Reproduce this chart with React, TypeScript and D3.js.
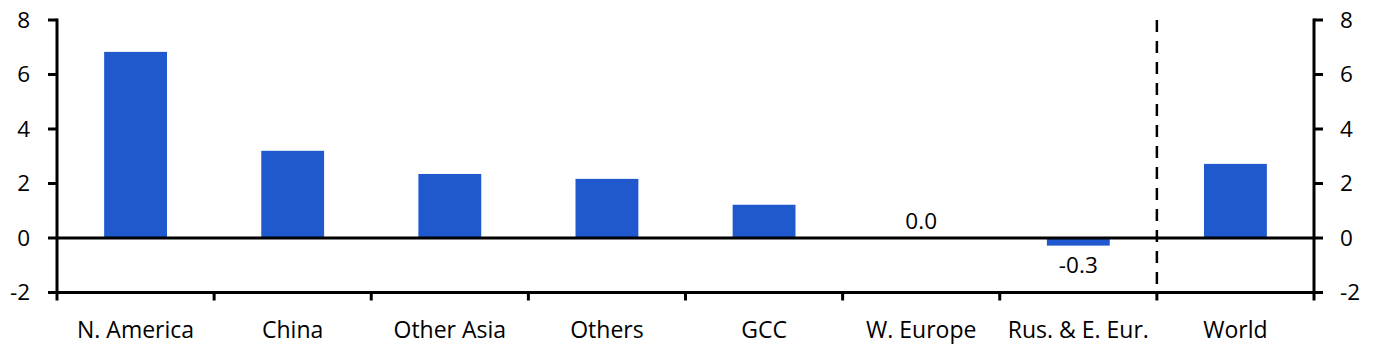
import React from "react";
import * as d3 from "d3";

const categories = ["N. America", "China", "Other Asia", "Others", "GCC", "W. Europe", "Rus. & E. Eur.", "World"];
const values = [6.83, 3.2, 2.35, 2.17, 1.22, 0.0, -0.28, 2.72];
const labelled = [false, false, false, false, false, true, true, false];
const yTicks = [-2, 0, 2, 4, 6, 8];

const W = 1374;
const H = 355;
const left = 57;
const right = 1314;
const top = 20;
const bottom = 292.5;
const font = "'Open Sans', Lato, sans-serif";
const fs = 23;
const fsTick = 22.5;

export default function App() {
  const x = d3.scaleBand<string>().domain(categories).range([left, right]).paddingInner(0).paddingOuter(0);
  const y = d3.scaleLinear().domain([-2, 8]).range([bottom, top]);
  const bw = x.bandwidth() * 0.4;
  const y0 = y(0);
  return (
    <svg width={W} height={H} style={{ position: "absolute", left: 0, top: 0, background: "#fff" }}>
      {categories.map((c, i) => {
        const v = values[i];
        const cx = (x(c) as number) + x.bandwidth() / 2;
        return (
          <g key={c}>
            <rect x={cx - bw / 2} width={bw} y={Math.min(y(v), y0)} height={Math.abs(y(v) - y0)} fill="#2059CE" />
            {labelled[i] && (
              <text
                x={cx}
                y={v >= 0 ? y(v) - 9 : y(v) + 27}
                textAnchor="middle"
                fontFamily={font}
                fontSize={fsTick}
                fill="#000"
              >
                {(Math.round(v * 10) / 10).toFixed(1)}
              </text>
            )}
            <text x={cx} y={338} textAnchor="middle" fontFamily={font} fontSize={fs} fill="#000">
              {c}
            </text>
          </g>
        );
      })}
      <line x1={left} x2={right} y1={y0} y2={y0} stroke="#000" strokeWidth={3} />
      <line
        x1={x("World") as number}
        x2={x("World") as number}
        y1={top}
        y2={bottom}
        stroke="#000"
        strokeWidth={2.5}
        strokeDasharray="12 9"
      />
      <line x1={left} x2={left} y1={top - 1.5} y2={bottom + 1.5} stroke="#000" strokeWidth={3} />
      <line x1={right} x2={right} y1={top - 1.5} y2={bottom + 1.5} stroke="#000" strokeWidth={3} />
      <line x1={left} x2={right} y1={bottom} y2={bottom} stroke="#000" strokeWidth={3} />
      {yTicks.map((t) => (
        <g key={t}>
          <line x1={left - 9} x2={left} y1={y(t)} y2={y(t)} stroke="#000" strokeWidth={3} />
          <line x1={right} x2={right + 9} y1={y(t)} y2={y(t)} stroke="#000" strokeWidth={3} />
          <text x={30} y={y(t)} dy="0.35em" textAnchor="end" fontFamily={font} fontSize={fsTick} fill="#000">
            {t}
          </text>
          <text x={1340} y={y(t)} dy="0.35em" textAnchor="start" fontFamily={font} fontSize={fsTick} fill="#000">
            {t}
          </text>
        </g>
      ))}
      {categories.map((c) => (
        <line key={c} x1={x(c) as number} x2={x(c) as number} y1={bottom} y2={bottom + 8} stroke="#000" strokeWidth={3} />
      ))}
      <line x1={right} x2={right} y1={bottom} y2={bottom + 8} stroke="#000" strokeWidth={3} />
    </svg>
  );
}
